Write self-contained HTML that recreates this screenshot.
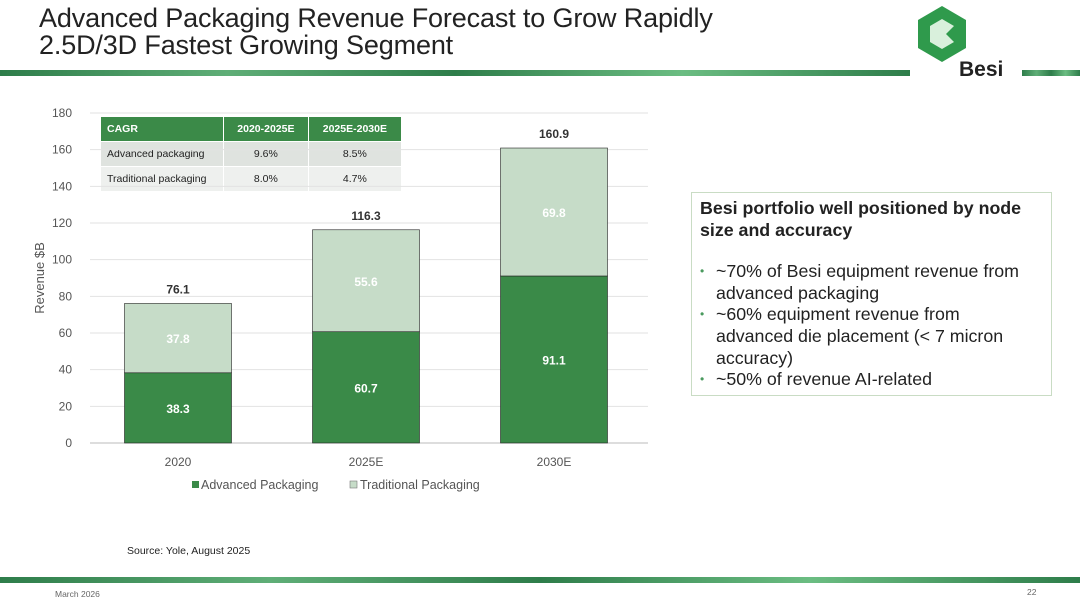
<!DOCTYPE html>
<html><head><meta charset="utf-8">
<style>
body{margin:0;width:1080px;height:600px;background:#fff;font-family:"Liberation Sans",sans-serif;position:relative;overflow:hidden}
.abs{position:absolute}
.title{left:39px;top:5px;font-size:27px;line-height:27px;color:#222;letter-spacing:-0.15px}
.band{height:6px;background:linear-gradient(90deg,#2e7d4a,#5fae77,#2e7d4a,#6bbd82,#2e7d4a);}
.box{left:691px;top:192px;width:361px;height:204px;border:1.5px solid #c9dcc4;box-sizing:border-box;padding:5px 16px 0 8px;font-size:17.8px;line-height:21.6px;color:#222}
.box ul{margin:20px 0 0 0;padding:0;list-style:none}
.box li{position:relative;padding-left:16px}
.box li:before{content:"•";position:absolute;left:0;color:#4a9a5e;font-size:12px}
table{border-collapse:collapse;font-size:10.5px;color:#222}
td{height:24px;padding:0 6px;border:1px solid #fff}
</style></head><body>
<div class="abs title">Advanced Packaging Revenue Forecast to Grow Rapidly<br>2.5D/3D Fastest Growing Segment</div>
<div class="abs band" style="left:0;top:70px;width:910px"></div>
<div class="abs band" style="left:1022px;top:70px;width:58px"></div>
<svg class="abs" style="left:912px;top:4px" width="60" height="62">
<polygon points="30,2 54,16 54,44 30,58 6,44 6,16" fill="#2f9a4c"/>
<polygon points="18,22 30,15 42,22 34,30 42,38 30,45 18,38" fill="#d9f0dc"/>
</svg>
<div class="abs" style="left:959px;top:58px;font-size:21px;font-weight:bold;color:#222">Besi</div>

<table class="abs" style="left:100px;top:116px;width:302px">
<tr style="background:#3b8a48;color:#fff;font-weight:bold;height:20px"><td style="height:19px;width:110px">CAGR</td><td style="text-align:center">2020-2025E</td><td style="text-align:center">2025E-2030E</td></tr>
<tr style="background:#dfe3df"><td>Advanced packaging</td><td style="text-align:center">9.6%</td><td style="text-align:center">8.5%</td></tr>
<tr style="background:#eef0ee"><td>Traditional packaging</td><td style="text-align:center">8.0%</td><td style="text-align:center">4.7%</td></tr>
</table>

<svg id="chart" class="abs" style="left:0;top:0;pointer-events:none" width="680" height="520"></svg>

<div class="abs box">
<b>Besi portfolio well positioned by node size and accuracy</b>
<ul>
<li>~70% of Besi equipment revenue from advanced packaging</li>
<li>~60% equipment revenue from advanced die placement (&lt; 7 micron accuracy)</li>
<li>~50% of revenue AI-related</li>
</ul></div>

<div class="abs" style="left:127px;top:545px;font-size:10.5px;color:#222">Source: Yole, August 2025</div>
<div class="abs band" style="left:0;top:577px;width:1080px"></div>
<div class="abs" style="left:55px;top:589px;font-size:8.5px;color:#666">March 2026</div>
<div class="abs" style="left:1027px;top:587px;font-size:8.5px;color:#666">22</div>

<script>
const categories=["2020","2025E","2030E"];
const advanced=[38.3,60.7,91.1];
const traditional=[37.8,55.6,69.8];
const totals=[76.1,116.3,160.9];
const yTicks=[0,20,40,60,80,100,120,140,160,180];
const svg=document.getElementById('chart');
const NS="http://www.w3.org/2000/svg";
const x0=84,x1=648,yb=443,yt=113,yMax=180;
const y=v=>yb-(v/yMax)*(yb-yt);
const band=(x1-x0)/categories.length;
const xc=i=>x0+band*(i+0.5);
const bw=107;
function el(t,a,txt){const e=document.createElementNS(NS,t);for(const k in a)e.setAttribute(k,a[k]);if(txt!==undefined)e.textContent=txt;svg.appendChild(e);return e;}
yTicks.forEach(t=>{
  const g=el('line',{x1:x0+6,x2:x1,y1:y(t),y2:y(t),stroke:t===0?'#bbb':'#e2e2e2','stroke-width':1});
  
  
  const l=el('text',{x:72,y:y(t)+4,'text-anchor':'end','font-size':12,fill:'#555'},t);
  
  
});
const yt2=el('text',{x:44,y:278,'text-anchor':'middle','font-size':13,fill:'#555',transform:'rotate(-90 44 278)'},'Revenue $B');


categories.forEach((c,i)=>{
  const xl=xc(i)-bw/2;
  const a=el('rect',{x:xl,y:y(advanced[i]),width:bw,height:yb-y(advanced[i]),fill:'#3a8a48',stroke:'#222','stroke-width':0.6});
  
  
  const tr=el('rect',{x:xl,y:y(advanced[i]+traditional[i]),width:bw,height:y(advanced[i])-y(advanced[i]+traditional[i]),fill:'#c6dcc8',stroke:'#222','stroke-width':0.6});
  
  
  const la=el('text',{x:xc(i),y:(y(advanced[i])+yb)/2+5,'text-anchor':'middle','font-size':12,'font-weight':'bold',fill:'#fff'},advanced[i].toFixed(1));
  
  
  const lt=el('text',{x:xc(i),y:(y(advanced[i])+y(advanced[i]+traditional[i]))/2+5,'text-anchor':'middle','font-size':12,'font-weight':'bold',fill:'#fff'},traditional[i].toFixed(1));
  
  
  const tot=el('text',{x:xc(i),y:y(totals[i])-10,'text-anchor':'middle','font-size':12,'font-weight':'bold',fill:'#333'},totals[i].toFixed(1));
  
  
  const cl=el('text',{x:xc(i),y:466,'text-anchor':'middle','font-size':12,fill:'#555'},c);
  
  
});
const l1=el('rect',{x:192,y:481,width:7,height:7,fill:'#3a8a48'});


const t1=el('text',{x:201,y:489,'font-size':12.5,fill:'#555'},'Advanced Packaging');


const l2=el('rect',{x:350,y:481,width:7,height:7,fill:'#c6dcc8',stroke:'#777','stroke-width':0.6});


const t2=el('text',{x:360,y:489,'font-size':12.5,fill:'#555'},'Traditional Packaging');


</script>
</body></html>
